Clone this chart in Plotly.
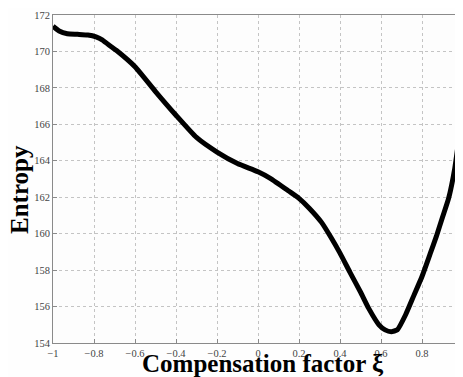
import plotly.graph_objects as go

xi = [-1.0, -0.97, -0.93, -0.88, -0.83, -0.79, -0.76, -0.73, -0.69, -0.6, -0.5, -0.4,
      -0.3, -0.2, -0.1, 0.0, 0.06, 0.15, 0.2, 0.25, 0.31, 0.36, 0.4, 0.45, 0.5, 0.54,
      0.59, 0.62, 0.65, 0.68, 0.72, 0.76, 0.8, 0.84, 0.87, 0.9, 0.93, 0.96, 0.98, 1.0]
entropy = [171.38, 171.12, 170.97, 170.94, 170.9, 170.8, 170.64, 170.38, 170.05, 169.16,
           167.8, 166.5, 165.28, 164.48, 163.85, 163.4, 163.04, 162.34, 161.94, 161.4,
           160.62, 159.72, 158.93, 157.85, 156.8, 155.9, 155.0, 154.72, 154.62, 154.73,
           155.55, 156.6, 157.65, 158.9, 159.85, 160.9, 161.95, 163.6, 165.2, 166.9]

x_ticks = [-1, -0.8, -0.6, -0.4, -0.2, 0, 0.2, 0.4, 0.6, 0.8]
x_tick_labels = ["\u22121", "\u22120.8", "\u22120.6", "\u22120.4", "\u22120.2", "0", "0.2", "0.4", "0.6", "0.8"]
y_ticks = [154, 156, 158, 160, 162, 164, 166, 168, 170, 172]

fig = go.Figure()
fig.add_trace(go.Scatter(x=xi, y=entropy, mode="lines",
                         line=dict(color="black", width=5, shape="spline", smoothing=0.5),
                         showlegend=False, hoverinfo="skip"))

font = "Liberation Serif"
axis_common = dict(showline=True, linecolor="#8a8a8a", linewidth=1, mirror=True,
                   ticks="inside", ticklen=4, tickcolor="#8a8a8a",
                   showgrid=True, gridcolor="#c4c4c4", griddash="dot", gridwidth=1,
                   zeroline=False, tickfont=dict(family=font, size=10.5, color="#444"))

fig.update_xaxes(range=[-1, 1], tickvals=x_ticks, ticktext=x_tick_labels, **axis_common)
fig.update_yaxes(range=[154, 172], tickvals=y_ticks, **axis_common)

fig.add_annotation(text="<b>Entropy</b>", xref="paper", yref="paper", x=-0.08, y=0.467,
                   textangle=-90, showarrow=False, xanchor="center", yanchor="middle",
                   font=dict(family=font, size=25, color="black"))
fig.add_annotation(text="<b>Compensation factor \u03be</b>", xref="paper", yref="paper",
                   x=0.512, y=-0.064, showarrow=False, xanchor="center", yanchor="middle",
                   font=dict(family=font, size=25, color="black"))

# page body has an 8px margin; size the figure so the plot area lands where the reference has it
fig.update_layout(width=455, height=369, margin=dict(l=45, r=0, t=7, b=34),
                  paper_bgcolor="#fefefe", plot_bgcolor="#fdfdfd")
fig.write_html("out.html")
